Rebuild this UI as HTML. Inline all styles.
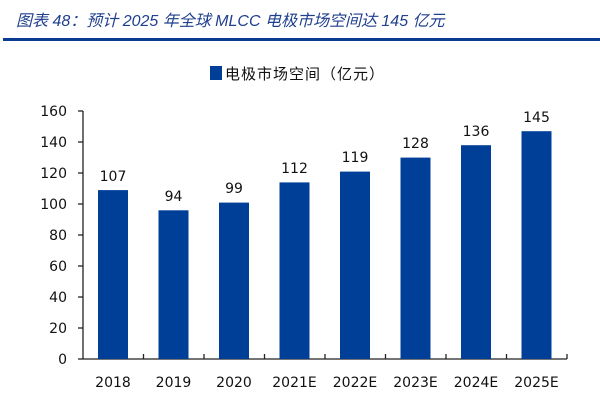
<!DOCTYPE html>
<html><head><meta charset="utf-8"><style>
body{margin:0;width:600px;height:400px;background:#fff;overflow:hidden}
</style></head><body>
<svg width="600" height="400" xmlns="http://www.w3.org/2000/svg" font-family="DejaVu Sans, Liberation Sans, Noto Sans CJK SC, sans-serif">
<text x="16" y="26" font-size="16" font-style="italic" fill="#1f3f8f" font-family="Liberation Sans, Noto Sans CJK SC, sans-serif">图表 48：预计 2025 年全球 MLCC 电极市场空间达 145 亿元</text>
<rect x="3" y="38" width="597" height="3" fill="#0a3d91"/>
<rect x="210" y="66" width="12" height="14" fill="#003f98"/>
<text x="225" y="79" font-size="15" fill="#111" font-family="Noto Sans CJK SC, sans-serif" letter-spacing="1">电极市场空间（亿元）</text>
<g font-size="14" fill="#111" text-anchor="end">
<text x="67" y="364">0</text><text x="67" y="333">20</text><text x="67" y="302">40</text><text x="67" y="271">60</text><text x="67" y="240">80</text><text x="67" y="209">100</text><text x="67" y="178">120</text><text x="67" y="147">140</text><text x="67" y="116">160</text>
</g>
<g stroke="#222" stroke-width="1.3">
<line x1="83" y1="111" x2="83" y2="359"/>
<line x1="83" y1="359" x2="567" y2="359"/>
<line x1="78" y1="359" x2="83" y2="359"/><line x1="78" y1="328" x2="83" y2="328"/><line x1="78" y1="297" x2="83" y2="297"/><line x1="78" y1="266" x2="83" y2="266"/><line x1="78" y1="235" x2="83" y2="235"/><line x1="78" y1="204" x2="83" y2="204"/><line x1="78" y1="173" x2="83" y2="173"/><line x1="78" y1="142" x2="83" y2="142"/><line x1="78" y1="111" x2="83" y2="111"/>
<line x1="143.5" y1="354" x2="143.5" y2="359"/><line x1="204" y1="354" x2="204" y2="359"/><line x1="264.5" y1="354" x2="264.5" y2="359"/><line x1="325" y1="354" x2="325" y2="359"/><line x1="385.5" y1="354" x2="385.5" y2="359"/><line x1="446" y1="354" x2="446" y2="359"/><line x1="506.5" y1="354" x2="506.5" y2="359"/><line x1="567" y1="354" x2="567" y2="359"/>
</g>
<g fill="#003f98">
<rect x="98" y="190.1" width="30" height="168.9"/>
<rect x="158.5" y="210.3" width="30" height="148.7"/>
<rect x="219" y="202.6" width="30" height="156.4"/>
<rect x="279.5" y="182.4" width="30" height="176.6"/>
<rect x="340" y="171.6" width="30" height="187.4"/>
<rect x="400.5" y="157.6" width="30" height="201.4"/>
<rect x="461" y="145.2" width="30" height="213.8"/>
<rect x="521.5" y="131.2" width="30" height="227.8"/>
</g>
<g font-size="14" fill="#111" text-anchor="middle">
<text x="113" y="181">107</text><text x="173.5" y="201">94</text><text x="234" y="193">99</text><text x="294.5" y="173">112</text><text x="355" y="162">119</text><text x="415.5" y="148">128</text><text x="476" y="136">136</text><text x="536.5" y="122">145</text>
<text x="113" y="387">2018</text><text x="173.5" y="387">2019</text><text x="234" y="387">2020</text><text x="294.5" y="387">2021E</text><text x="355" y="387">2022E</text><text x="415.5" y="387">2023E</text><text x="476" y="387">2024E</text><text x="536.5" y="387">2025E</text>
</g>
</svg>
</body></html>
